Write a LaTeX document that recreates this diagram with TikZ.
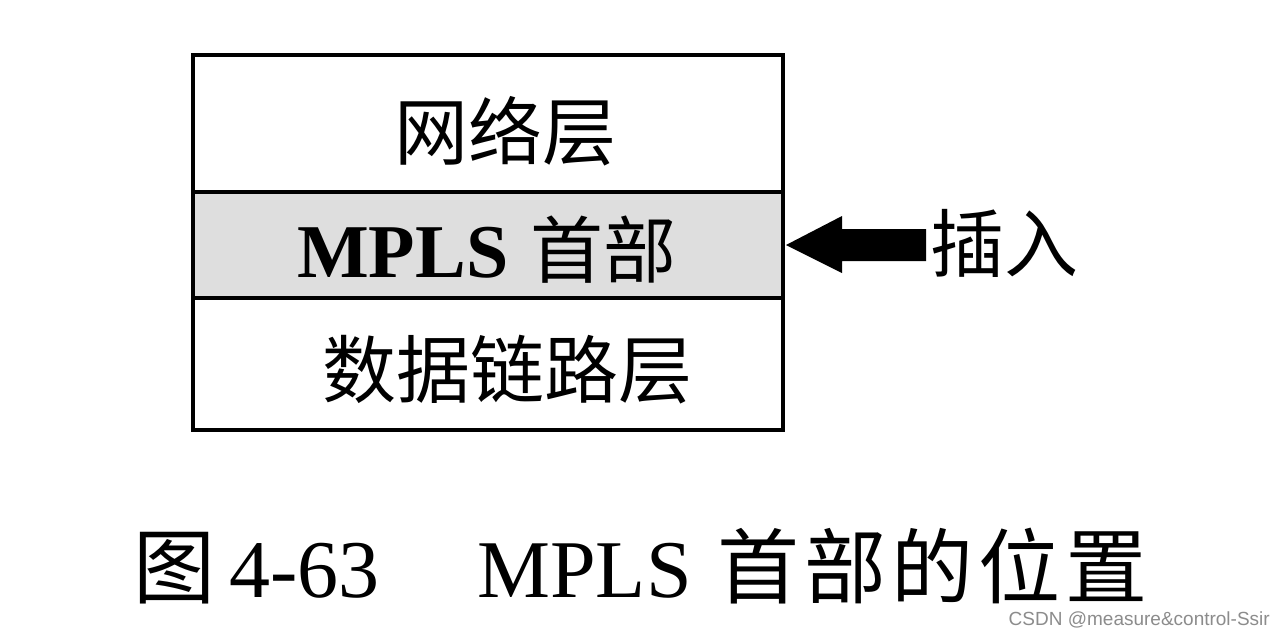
\documentclass[tikz,border=0pt]{standalone}
\usepackage{fontspec}
\setmainfont{Liberation Serif}
\newfontfamily\cjk{Noto Sans CJK SC}
\newfontfamily\wmfont{Liberation Sans}
\begin{document}
\begin{tikzpicture}[x=1pt,y=-1pt,
  layer/.style={draw=black,line width=3.5pt,inner sep=0pt,outer sep=0pt},
  boxtext/.style={font=\cjk\fontsize{74}{80}\selectfont,inner sep=0pt},
  arrowfill/.style={fill=black,draw=none}]
\useasboundingbox[fill=white] (0,0) rectangle (1280,635);
% layers
\node[layer,minimum width=590pt,minimum height=137pt,anchor=north west] (net) at (193,55) {};
\node[layer,fill=black!13,minimum width=590pt,minimum height=106pt,anchor=north] (mpls) at (net.south) {};
\node[layer,minimum width=590pt,minimum height=132pt,anchor=north] (dl) at (mpls.south) {};
% texts
\node[boxtext] (tnet) at (505,131) {网络层};
\node[inner sep=0pt,anchor=base west] (tmpls) at (297,277)
  {\fontsize{76}{80}\selectfont{\bfseries MPLS}\hspace{22pt}{\cjk\mdseries\fontsize{73}{80}\selectfont 首部}};
\node[boxtext] (tdl) at (507,370) {数据链路层};
% arrow
\coordinate (tip) at (mpls.east);
\filldraw[arrowfill] ([xshift=3pt]tip) -- ++(56,-29) -- ++(0,13) -- ++(84,0) -- ++(0,32) -- ++(-84,0) -- ++(0,12) -- cycle;
\node[boxtext,anchor=west] (ins) at (930,243) {插入};
% caption
\node[inner sep=0pt,anchor=base west] (cap) at (133,597)
  {\fontsize{82}{90}\selectfont{\cjk 图}\hspace{14pt}4-63\hspace{98pt}MPLS\hspace{26pt}{\cjk 首\kern5pt部\kern5pt的\kern5pt位\kern5pt置}};
% watermark
\node[inner sep=0pt,anchor=east,text=black!45,font=\wmfont\fontsize{19}{22}\selectfont] (wm) at (1270,620) {CSDN @measure\&control-Ssir};
\end{tikzpicture}
\end{document}
